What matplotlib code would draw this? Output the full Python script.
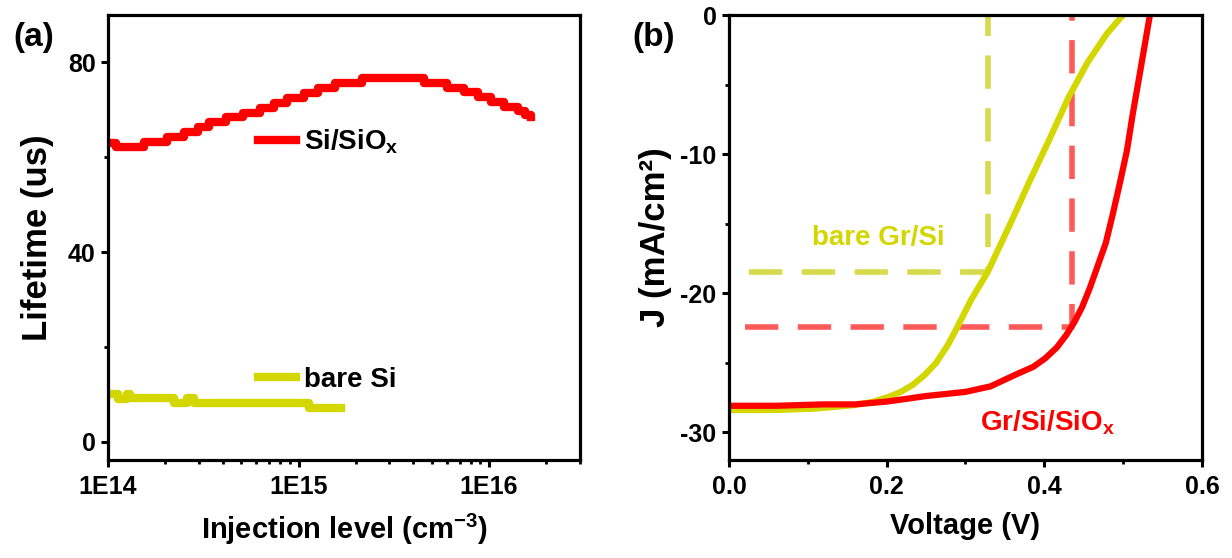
import matplotlib
matplotlib.use('Agg')
import matplotlib.pyplot as plt
from matplotlib.ticker import FixedLocator, FixedFormatter, MultipleLocator, LogLocator, NullFormatter

plt.rcParams['font.family'] = ['Liberation Sans', 'DejaVu Sans']
plt.rcParams['font.weight'] = 'bold'
plt.rcParams['axes.labelweight'] = 'bold'
plt.rcParams['axes.unicode_minus'] = False
plt.rcParams['mathtext.fontset'] = 'custom'
plt.rcParams['mathtext.rm'] = 'Liberation Sans:bold'
plt.rcParams['mathtext.it'] = 'Liberation Sans:bold'
plt.rcParams['mathtext.bf'] = 'Liberation Sans:bold'

RED = '#ff0000'
YEL = '#d4d600'

# (a) lifetime vs injection level
inj_sio = [1.00e14, 1.10e14, 1.55e14, 2.04e14, 2.51e14, 2.95e14, 3.39e14, 4.17e14,
           5.13e14, 6.31e14, 7.41e14, 8.71e14, 1.07e15, 1.26e15, 1.55e15, 2.14e15,
           4.57e15, 6.03e15, 7.41e15, 8.71e15, 1.02e16, 1.20e16, 1.41e16, 1.55e16, 1.66e16]
tau_sio = [63.0, 62.2, 63.2, 64.3, 65.3, 66.3, 67.4, 68.4,
           69.4, 70.5, 71.5, 72.6, 73.6, 74.6, 75.7, 76.7,
           75.7, 74.7, 73.7, 72.7, 71.7, 70.7, 69.8, 69.0, 68.5]
inj_bare = [1.00e14, 1.13e14, 1.25e14, 1.31e14, 2.21e14, 2.59e14, 2.81e14, 1.13e15, 1.66e15]
tau_bare = [10.1, 9.0, 10.1, 9.3, 8.3, 9.3, 8.2, 7.1, 7.1]

# (b) J-V curves
v_sio = [0.0, 0.06, 0.12, 0.16, 0.20, 0.25, 0.30, 0.332, 0.347, 0.366, 0.386, 0.401,
         0.416, 0.428, 0.438, 0.448, 0.458, 0.468, 0.478, 0.487, 0.497, 0.505, 0.512,
         0.520, 0.527, 0.534]
j_sio = [-28.1, -28.1, -28.0, -28.0, -27.8, -27.4, -27.1, -26.7, -26.3, -25.8, -25.3, -24.7,
         -23.9, -23.0, -22.1, -21.0, -19.6, -18.0, -16.4, -14.3, -11.8, -9.7, -7.2,
         -4.6, -2.3, 0.0]
v_bare = [0.0, 0.06, 0.11, 0.159, 0.184, 0.203, 0.218, 0.233, 0.248, 0.263, 0.278, 0.29,
          0.307, 0.328, 0.357, 0.381, 0.406, 0.431, 0.455, 0.48, 0.50]
j_bare = [-28.4, -28.4, -28.3, -28.05, -27.8, -27.45, -27.1, -26.6, -25.9, -25.0, -23.7, -22.4,
          -20.5, -18.5, -15.0, -12.0, -9.0, -5.9, -3.4, -1.3, 0.0]
mpp_bare = (0.328, -18.5)
mpp_sio = (0.435, -22.4)

fig = plt.figure(figsize=(12.32, 5.58), dpi=100)
ax1 = fig.add_axes([0.0877, 0.1756, 0.3831, 0.7975])
ax2 = fig.add_axes([0.5917, 0.1756, 0.3839, 0.7975])

for ax in (ax1, ax2):
    for s in ax.spines.values():
        s.set_linewidth(2.3)
    ax.tick_params(which='major', direction='out', length=5, width=2.2, labelsize=18)
    ax.tick_params(which='minor', direction='out', length=3, width=2.0)
    ax.tick_params(axis='x', which='major', pad=6)
    ax.tick_params(axis='y', which='major', pad=4)
    ax.tick_params(top=False, right=False, which='both')

# panel (a)
l1, = ax1.plot(inj_sio, tau_sio, drawstyle='steps-post', color=RED, lw=6)
l2, = ax1.plot(inj_bare, tau_bare, drawstyle='steps-post', color=YEL, lw=6)
ax1.set_xscale('log')
ax1.set_xlim(1e14, 3e16)
ax1.set_ylim(-3.8, 90)
ax1.xaxis.set_major_locator(FixedLocator([1e14, 1e15, 1e16]))
ax1.xaxis.set_major_formatter(FixedFormatter(['1E14', '1E15', '1E16']))
ax1.xaxis.set_minor_locator(LogLocator(base=10, subs=range(2, 10)))
ax1.xaxis.set_minor_formatter(NullFormatter())
ax1.yaxis.set_major_locator(MultipleLocator(40))
ax1.yaxis.set_minor_locator(MultipleLocator(20))
ax1.set_ylabel('Lifetime (us)', fontsize=25, labelpad=10)
ax1.set_xlabel('Injection level (cm$^{-3}$)', fontsize=21, labelpad=9)

leg1 = ax1.legend([l1], ['Si/SiO$_{x}$'], loc='center left', bbox_to_anchor=(0.265, 0.715),
                  frameon=False, fontsize=20, handlelength=1.35, handletextpad=0.3)
ax1.add_artist(leg1)
ax1.legend([l2], ['bare Si'], loc='center left', bbox_to_anchor=(0.265, 0.18),
           frameon=False, fontsize=20, handlelength=1.35, handletextpad=0.3)

# panel (b)
ax2.plot([0.026, mpp_bare[0], mpp_bare[0]], [mpp_bare[1], mpp_bare[1], 0],
         color='#d6da4c', lw=4, dashes=(6, 3.5))
ax2.plot([0.02, mpp_sio[0], mpp_sio[0]], [mpp_sio[1], mpp_sio[1], 0],
         color='#ff5a5a', lw=4, dashes=(6, 3.5))
ax2.plot(v_bare, j_bare, color=YEL, lw=4.5, solid_capstyle='butt')
ax2.plot(v_sio, j_sio, color=RED, lw=4.5, solid_capstyle='butt')
ax2.set_xlim(0, 0.6)
ax2.set_ylim(-32, 0)
ax2.xaxis.set_major_locator(MultipleLocator(0.2))
ax2.xaxis.set_minor_locator(MultipleLocator(0.1))
ax2.xaxis.set_major_formatter(plt.FuncFormatter(lambda v, p: f'{v:.1f}'))
ax2.yaxis.set_major_locator(MultipleLocator(10))
ax2.yaxis.set_minor_locator(MultipleLocator(5))
ax2.set_xlabel('Voltage (V)', fontsize=21, labelpad=9)
ax2.set_ylabel('J (mA/cm²)', fontsize=25, labelpad=6)
ax2.text(0.105, -16.0, 'bare Gr/Si', color=YEL, fontsize=20, va='center', ha='left')
ax2.text(0.318, -29.3, 'Gr/Si/SiO$_{x}$', color=RED, fontsize=20, va='center', ha='left')

fig.text(0.011, 0.932, '(a)', fontsize=24, va='center')
fig.text(0.513, 0.932, '(b)', fontsize=24, va='center')

fig.savefig('out.png', dpi=100)
